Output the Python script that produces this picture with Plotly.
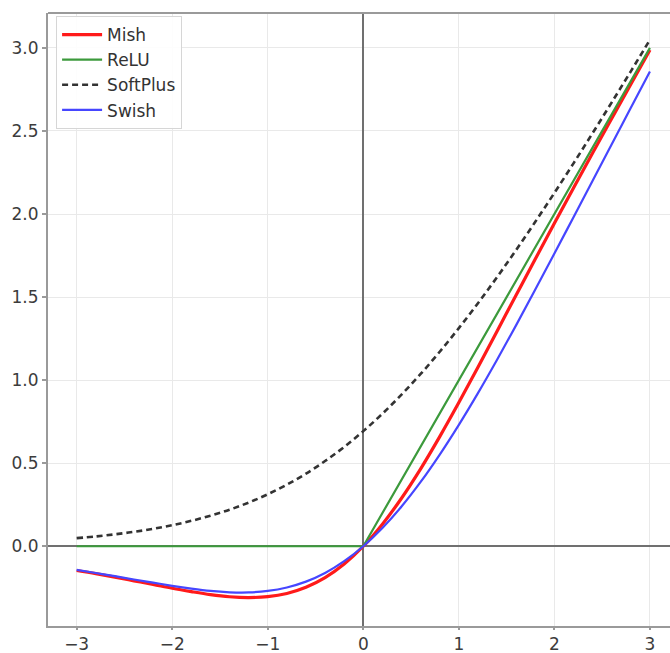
import plotly.graph_objects as go

x_vals = [-3.0, -2.8, -2.6, -2.4, -2.2, -2.0, -1.8, -1.6, -1.4, -1.2, -1.0,
          -0.8, -0.6, -0.4, -0.2, 0.0, 0.2, 0.4, 0.6, 0.8, 1.0,
          1.2, 1.4, 1.6, 1.8, 2.0, 2.2, 2.4, 2.6, 2.8, 3.0]

mish = [-0.146, -0.165, -0.186, -0.208, -0.230, -0.253, -0.273, -0.291, -0.304, -0.309, -0.303,
        -0.284, -0.247, -0.189, -0.107, 0.000, 0.133, 0.289, 0.466, 0.660, 0.865,
        1.078, 1.295, 1.512, 1.729, 1.944, 2.157, 2.367, 2.575, 2.782, 2.987]

swish = [-0.142, -0.161, -0.180, -0.200, -0.219, -0.238, -0.255, -0.269, -0.277, -0.278, -0.269,
         -0.248, -0.213, -0.161, -0.090, 0.000, 0.110, 0.239, 0.387, 0.552, 0.731,
         0.922, 1.123, 1.331, 1.545, 1.762, 1.981, 2.200, 2.420, 2.639, 2.858]

softplus = [0.049, 0.059, 0.072, 0.087, 0.105, 0.127, 0.153, 0.184, 0.220, 0.263, 0.313,
            0.371, 0.437, 0.513, 0.598, 0.693, 0.798, 0.913, 1.037, 1.171, 1.313,
            1.463, 1.620, 1.784, 1.953, 2.127, 2.305, 2.487, 2.672, 2.859, 3.049]

relu_x = [-3.0, 0.0, 3.0]
relu_y = [0.0, 0.0, 3.0]

x_ticks = [-3, -2, -1, 0, 1, 2, 3]
y_ticks = [0.0, 0.5, 1.0, 1.5, 2.0, 2.5, 3.0]

fig = go.Figure()
fig.add_trace(go.Scatter(x=x_vals, y=mish, mode="lines", name="Mish",
                         line=dict(color="#ff1a1a", width=3.2, shape="spline")))
fig.add_trace(go.Scatter(x=relu_x, y=relu_y, mode="lines", name="ReLU",
                         line=dict(color="#3c9a3c", width=2.2)))
fig.add_trace(go.Scatter(x=x_vals, y=softplus, mode="lines", name="SoftPlus",
                         line=dict(color="#333333", width=2.6, dash="6px,4px", shape="spline")))
fig.add_trace(go.Scatter(x=x_vals, y=swish, mode="lines", name="Swish",
                         line=dict(color="#4646ff", width=2.2, shape="spline")))

axis_font = dict(family="DejaVu Sans", size=17, color="#3c3c3c")

fig.update_layout(
    width=670, height=653,
    margin=dict(l=48, r=0, t=13, b=27, autoexpand=False),
    paper_bgcolor="white", plot_bgcolor="white",
    showlegend=True,
    legend=dict(x=0.013, y=0.995, xanchor="left", yanchor="top",
                bgcolor="rgba(255,255,255,0.9)", bordercolor="#d6d6d6", borderwidth=1,
                font=dict(family="DejaVu Sans", size=17, color="#333333"),
                tracegroupgap=0, itemwidth=40),
    xaxis=dict(range=[-3.3, 3.21], tickvals=x_ticks, tickfont=axis_font, automargin=False,
               showgrid=True, gridcolor="#e9e9e9", gridwidth=1,
               zeroline=True, zerolinecolor="#707070", zerolinewidth=2,
               showline=True, linecolor="#9a9a9a", linewidth=2, mirror=False,
               ticks="outside", ticklen=2, tickcolor="#9a9a9a", tickwidth=1.5),
    yaxis=dict(range=[-0.48, 3.21], tickvals=y_ticks, tickformat=".1f", tickfont=axis_font,
               automargin=False,
               showgrid=True, gridcolor="#e9e9e9", gridwidth=1,
               zeroline=True, zerolinecolor="#707070", zerolinewidth=2,
               showline=True, linecolor="#9a9a9a", linewidth=2, mirror=False,
               ticks="outside", ticklen=4, tickcolor="#9a9a9a", tickwidth=1.5),
    shapes=[dict(type="line", xref="paper", yref="paper", x0=0, x1=1, y0=1, y1=1,
                 line=dict(color="#9a9a9a", width=2))],
)

fig.write_html("out.html", config={"displayModeBar": False},
               post_script="document.body.style.margin='0';document.body.style.overflow='hidden';")
